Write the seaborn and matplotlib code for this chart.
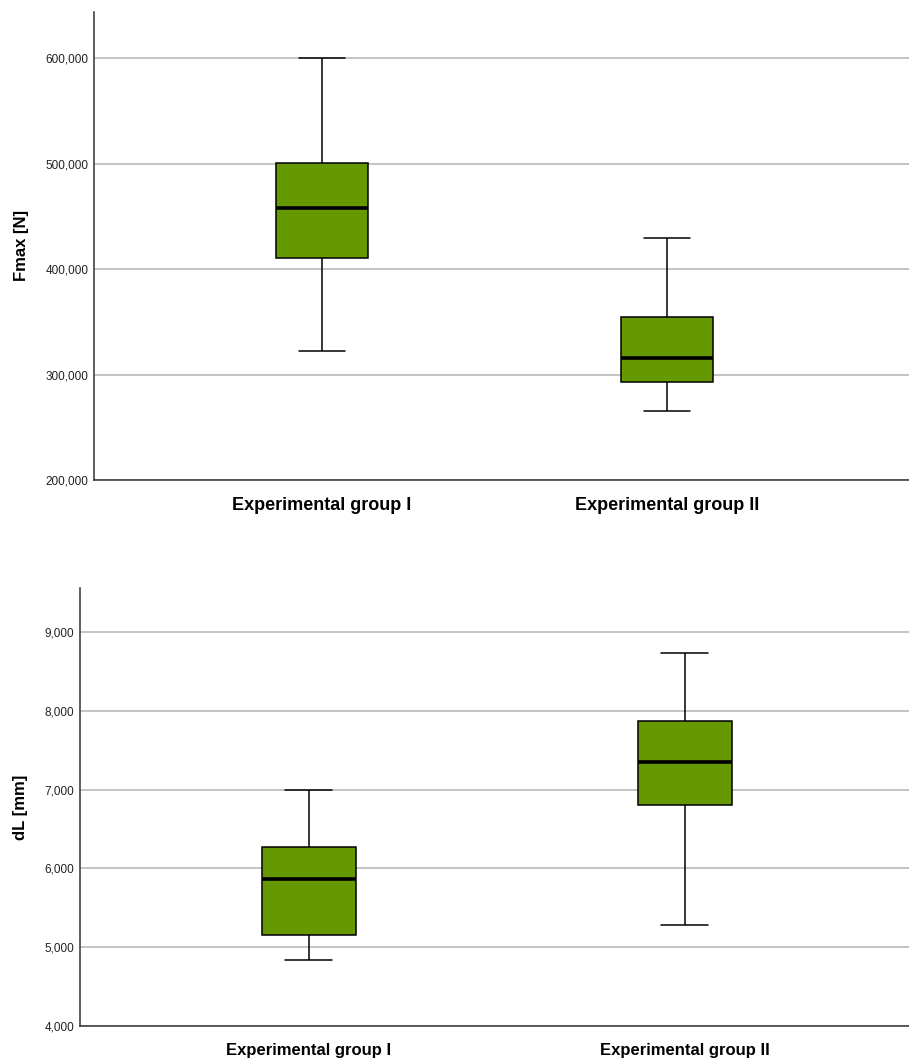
import matplotlib
matplotlib.use("Agg")
import matplotlib.pyplot as plt
import matplotlib.ticker as mticker
import pandas as pd
import seaborn as sns

groups = ["Experimental group I", "Experimental group II"]

# five-number summaries: min, q1, median, q3, max
fmax_g1 = [322000, 411000, 458000, 501000, 600000]
fmax_g2 = [265000, 293000, 316000, 355000, 430000]
dl_g1 = [4840, 5160, 5870, 6270, 6990]
dl_g2 = [5280, 6810, 7350, 7870, 8740]

fmax_ticks = [200000, 300000, 400000, 500000, 600000]
dl_ticks = [4000, 5000, 6000, 7000, 8000, 9000]

GREEN = "#669900"


def make_df(a, b, col):
    rows = [{"Group": groups[0], col: v} for v in a]
    rows += [{"Group": groups[1], col: v} for v in b]
    return pd.DataFrame(rows)


def draw(ax, df, col, ticks, ylim, xlim, width, ylabel, xfs, xpad, ypad):
    sns.boxplot(data=df, x="Group", y=col, order=groups, ax=ax,
                color=GREEN, saturation=1, width=width, whis=(0, 100),
                linewidth=1.1,
                boxprops=dict(edgecolor="black", linewidth=1.1),
                medianprops=dict(color="black", linewidth=2.6),
                whiskerprops=dict(color="black", linewidth=1.1),
                capprops=dict(color="black", linewidth=1.1))
    ax.set_ylim(*ylim)
    ax.set_xlim(*xlim)
    ax.set_yticks(ticks)
    ax.yaxis.set_major_formatter(mticker.FuncFormatter(lambda v, p: f"{int(v):,}"))
    ax.grid(axis="y", color="#b4b4b4", linewidth=1.1)
    ax.grid(axis="x", visible=False)
    ax.set_axisbelow(True)
    for s in ["top", "right"]:
        ax.spines[s].set_visible(False)
    for s in ["left", "bottom"]:
        ax.spines[s].set_color("#333333")
        ax.spines[s].set_linewidth(1.1)
    ax.tick_params(axis="y", length=0, labelsize=8.5, pad=4, labelcolor="#222222")
    ax.tick_params(axis="x", length=0, pad=xpad, labelcolor="black")
    for lab in ax.get_xticklabels():
        lab.set_fontsize(xfs)
        lab.set_fontweight("bold")
    ax.set_xlabel("")
    ax.set_ylabel(ylabel, fontsize=12, fontweight="bold", labelpad=ypad, color="black")


sns.set_theme(style="white")
plt.rcParams["font.family"] = ["Liberation Sans", "DejaVu Sans"]

fig = plt.figure(figsize=(9.09, 10.6), dpi=100)
ax1 = fig.add_axes([0.1034, 0.5472, 0.8966, 0.4415])
ax2 = fig.add_axes([0.088, 0.0321, 0.912, 0.4132])

draw(ax1, make_df(fmax_g1, fmax_g2, "Fmax"), "Fmax", fmax_ticks,
     (200000, 644000), (-0.66, 1.70), 0.267, "Fmax [N]", 13, 12, 12)
draw(ax2, make_df(dl_g1, dl_g2, "dL"), "dL", dl_ticks,
     (4000, 9560), (-0.609, 1.596), 0.25, "dL [mm]", 12, 12, 12)

fig.savefig("out.png", dpi=100)
